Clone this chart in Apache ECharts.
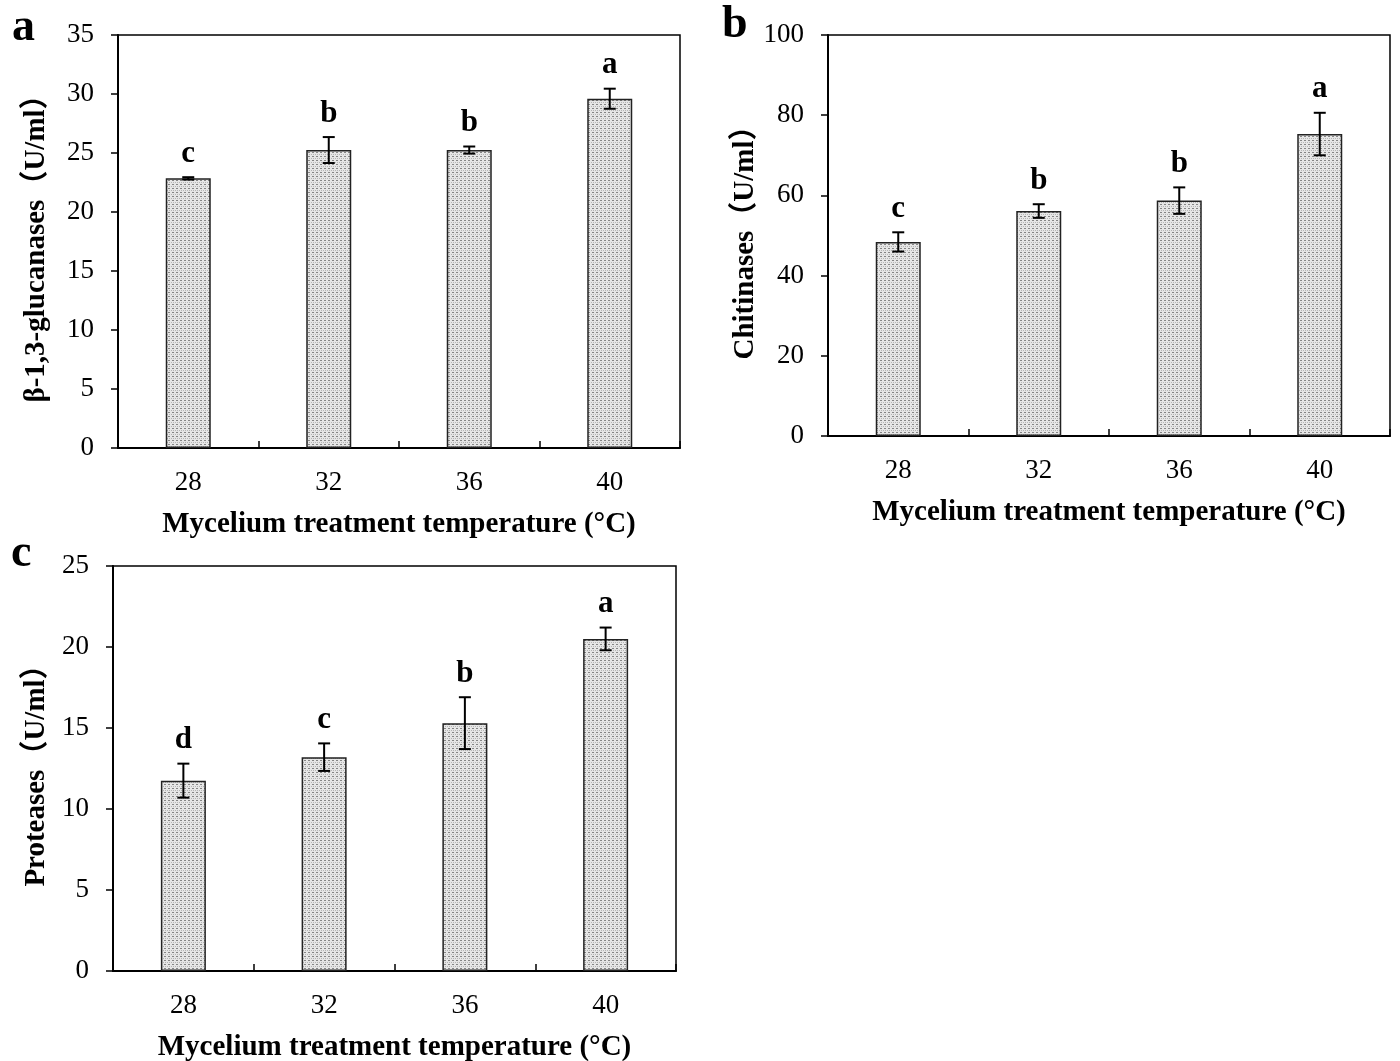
<!DOCTYPE html>
<html>
<head>
<meta charset="utf-8">
<script src="https://cdn.jsdelivr.net/npm/echarts@6/dist/echarts.min.js"></script>
<style>
  html, body { margin: 0; padding: 0; background: #fff; }
  #chart { width: 1400px; height: 1061px; }
</style>
</head>
<body>
<div id="chart"></div>
<script>
// temperatures
const categories = ['28', '32', '36', '40']

// a: β-1,3-glucanases
const glucMean = [22.85, 25.25, 25.25, 29.6]
const glucErr = [0.1, 1.1, 0.3, 0.85]
const glucLetters = ['c', 'b', 'b', 'a']

// b: chitinases
const chitMean = [48.4, 56.1, 58.7, 75.3]
const chitErr = [2.4, 1.7, 3.3, 5.3]
const chitLetters = ['c', 'b', 'b', 'a']

// c: proteases
const protMean = [11.75, 13.2, 15.3, 20.5]
const protErr = [1.05, 0.85, 1.6, 0.7]
const protLetters = ['d', 'c', 'b', 'a']

const serif = '"Liberation Serif", "Times New Roman", "Noto Sans CJK SC", serif'

// dotted fill like the original hatch
function makePattern() {
    const c = document.createElement('canvas')
    c.width = 4
    c.height = 4
    const ctx = c.getContext('2d')
    ctx.fillStyle = '#e6e6e6'
    ctx.fillRect(0, 0, 4, 4)
    ctx.fillStyle = '#858585'
    ctx.fillRect(0, 0, 2, 1)
    ctx.fillStyle = '#b5b5b5'
    ctx.fillRect(1, 2, 1, 1)
    ctx.fillRect(3, 2, 1, 1)
    return c
}
const pattern = { image: makePattern(), repeat: 'repeat' }

const panels = [
    { mean: glucMean, err: glucErr, letters: glucLetters, max: 35, interval: 5, nameGap: 67,
      yName: 'β-1,3-glucanases（U/ml）', grid: { left: 118, top: 35, width: 562, height: 413 } },
    { mean: chitMean, err: chitErr, letters: chitLetters, max: 100, interval: 20, nameGap: 63,
      yName: 'Chitinases（U/ml）', grid: { left: 828, top: 35, width: 562, height: 401 } },
    { mean: protMean, err: protErr, letters: protLetters, max: 25, interval: 5, nameGap: 62,
      yName: 'Proteases（U/ml）', grid: { left: 113, top: 566, width: 563, height: 405 } }
]

const grids = []
const xAxes = []
const yAxes = []
const series = []

panels.forEach((p, i) => {
    grids.push(Object.assign({
        show: true, borderColor: '#000', borderWidth: 1.5, backgroundColor: 'transparent',
        containLabel: false, outerBoundsMode: 'none'
    }, p.grid))
    xAxes.push({
        type: 'category',
        gridIndex: i,
        data: categories,
        axisLine: { show: true, lineStyle: { color: '#000', width: 2 } },
        axisTick: { show: true, inside: true, length: 7, alignWithLabel: false, lineStyle: { color: '#000', width: 1.5 } },
        axisLabel: { color: '#000', fontSize: 27, fontFamily: serif, margin: 21 },
        splitLine: { show: false },
        name: 'Mycelium treatment temperature (°C)',
        nameLocation: 'middle',
        nameGap: 62,
        nameTextStyle: { color: '#000', fontSize: 29, fontWeight: 'bold', fontFamily: serif }
    })
    yAxes.push({
        type: 'value',
        gridIndex: i,
        min: 0,
        max: p.max,
        interval: p.interval,
        axisLine: { show: true, lineStyle: { color: '#000', width: 2 } },
        axisTick: { show: true, length: 7, lineStyle: { color: '#000', width: 1.5 } },
        axisLabel: { color: '#000', fontSize: 27, fontFamily: serif, margin: 24 },
        splitLine: { show: false },
        name: p.yName,
        nameLocation: 'middle',
        nameGap: p.nameGap,
        nameTextStyle: { color: '#000', fontSize: 29, fontWeight: 'bold', fontFamily: serif }
    })
    series.push({
        type: 'bar',
        xAxisIndex: i,
        yAxisIndex: i,
        barWidth: 45,
        itemStyle: { color: pattern, borderColor: '#222', borderWidth: 1.5 },
        data: p.mean
    })
    // error bars + significance letters
    series.push({
        type: 'custom',
        xAxisIndex: i,
        yAxisIndex: i,
        z: 5,
        renderItem: function (params, api) {
            const idx = api.value(0)
            const m = api.value(1)
            const e = api.value(2)
            const top = api.coord([idx, m + e])
            const bot = api.coord([idx, m - e])
            const cap = 6
            const st = { stroke: '#000', lineWidth: 2 }
            return {
                type: 'group',
                children: [
                    { type: 'line', shape: { x1: top[0], y1: top[1], x2: bot[0], y2: bot[1] }, style: st },
                    { type: 'line', shape: { x1: top[0] - cap, y1: top[1], x2: top[0] + cap, y2: top[1] }, style: st },
                    { type: 'line', shape: { x1: bot[0] - cap, y1: bot[1], x2: bot[0] + cap, y2: bot[1] }, style: st },
                    { type: 'text', x: top[0], y: top[1] - 8,
                      style: { text: p.letters[params.dataIndex], fill: '#000', font: 'bold 31px ' + serif,
                               textAlign: 'center', textVerticalAlign: 'bottom' } }
                ]
            }
        },
        data: p.mean.map((v, k) => [k, v, p.err[k]])
    })
})

const mChart = echarts.init(document.getElementById('chart'))
const option = {
    backgroundColor: '#fff',
    animation: false,
    grid: grids,
    xAxis: xAxes,
    yAxis: yAxes,
    series: series,
    graphic: [
        { type: 'text', left: 12, top: 5, style: { text: 'a', font: 'bold 46px ' + serif, fill: '#000' } },
        { type: 'text', left: 722, top: 2, style: { text: 'b', font: 'bold 46px ' + serif, fill: '#000' } },
        { type: 'text', left: 11, top: 531, style: { text: 'c', font: 'bold 46px ' + serif, fill: '#000' } }
    ]
}
mChart.setOption(option)
window.addEventListener('resize', function () {
    mChart.resize()
})
</script>
</body>
</html>
